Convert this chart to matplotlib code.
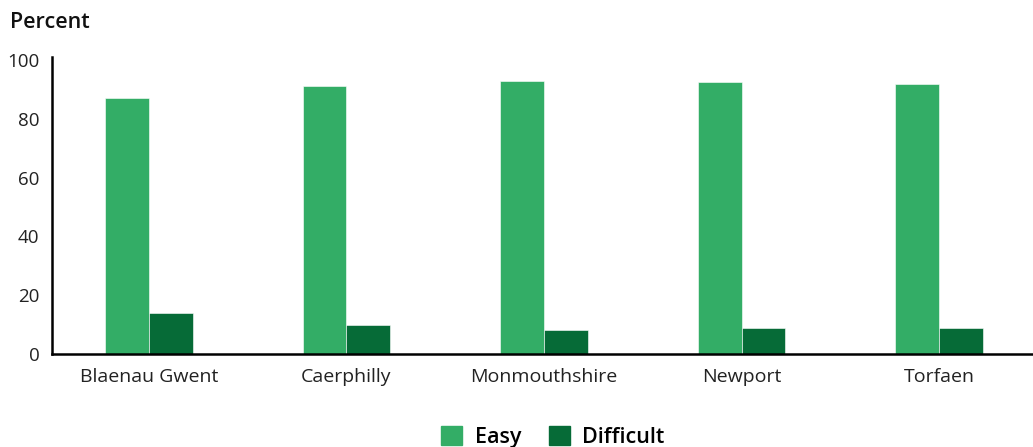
import matplotlib.pyplot as plt
import numpy as np
from matplotlib.patches import Patch

# Data -----------------------------------------------------------
areas = ["Blaenau Gwent", "Caerphilly", "Monmouthshire", "Newport", "Torfaen"]
easy = [87, 91, 93, 92.5, 92]
difficult = [14, 10, 8, 9, 9]
yticks = [0, 20, 40, 60, 80, 100]

easyColour = "#33ad66"
difficultColour = "#066b37"

plt.rcParams['font.family'] = ['Open Sans', 'DejaVu Sans']

fig = plt.figure(figsize=(10.33, 4.47), dpi=100)
ax = fig.add_axes([52 / 1033, 1 - 354 / 447, 1 - 52 / 1033, (354 - 60) / 447])

x = np.arange(len(areas))
w = 0.222
ax.bar(x - w / 2, easy, w, color=easyColour, edgecolor="white", linewidth=0.4)
ax.bar(x + w / 2, difficult, w, color=difficultColour, edgecolor="white", linewidth=0.4)

ax.set_xlim(-0.49, 4.475)
ax.set_ylim(0, 100)
ax.set_yticks(yticks)
ax.set_xticks(x)
ax.set_xticklabels(areas)
ax.tick_params(axis='y', length=0, labelsize=13.5, colors="#222222", pad=9)
ax.tick_params(axis='x', length=0, labelsize=14, colors="#222222", pad=10)

for s in ["top", "right"]:
    ax.spines[s].set_visible(False)
for s in ["left", "bottom"]:
    ax.spines[s].set_linewidth(1.8)
    ax.spines[s].set_color("black")
ax.spines["left"].set_bounds(0, 101)

fig.text(10 / 1033, 1 - 22 / 447, "Percent", fontsize=15.5, fontweight="semibold",
         va="center", ha="left", color="#111111")

handles = [Patch(color=easyColour, label="Easy"),
           Patch(color=difficultColour, label="Difficult")]
fig.legend(handles=handles, loc="center", bbox_to_anchor=(553 / 1033, 1 - 437 / 447),
           ncol=2, frameon=False, handlelength=0.95, handleheight=0.95,
           handletextpad=0.6, columnspacing=1.3, prop={'weight': 'semibold', 'size': 15.5})

fig.savefig("out.png", dpi=100)
